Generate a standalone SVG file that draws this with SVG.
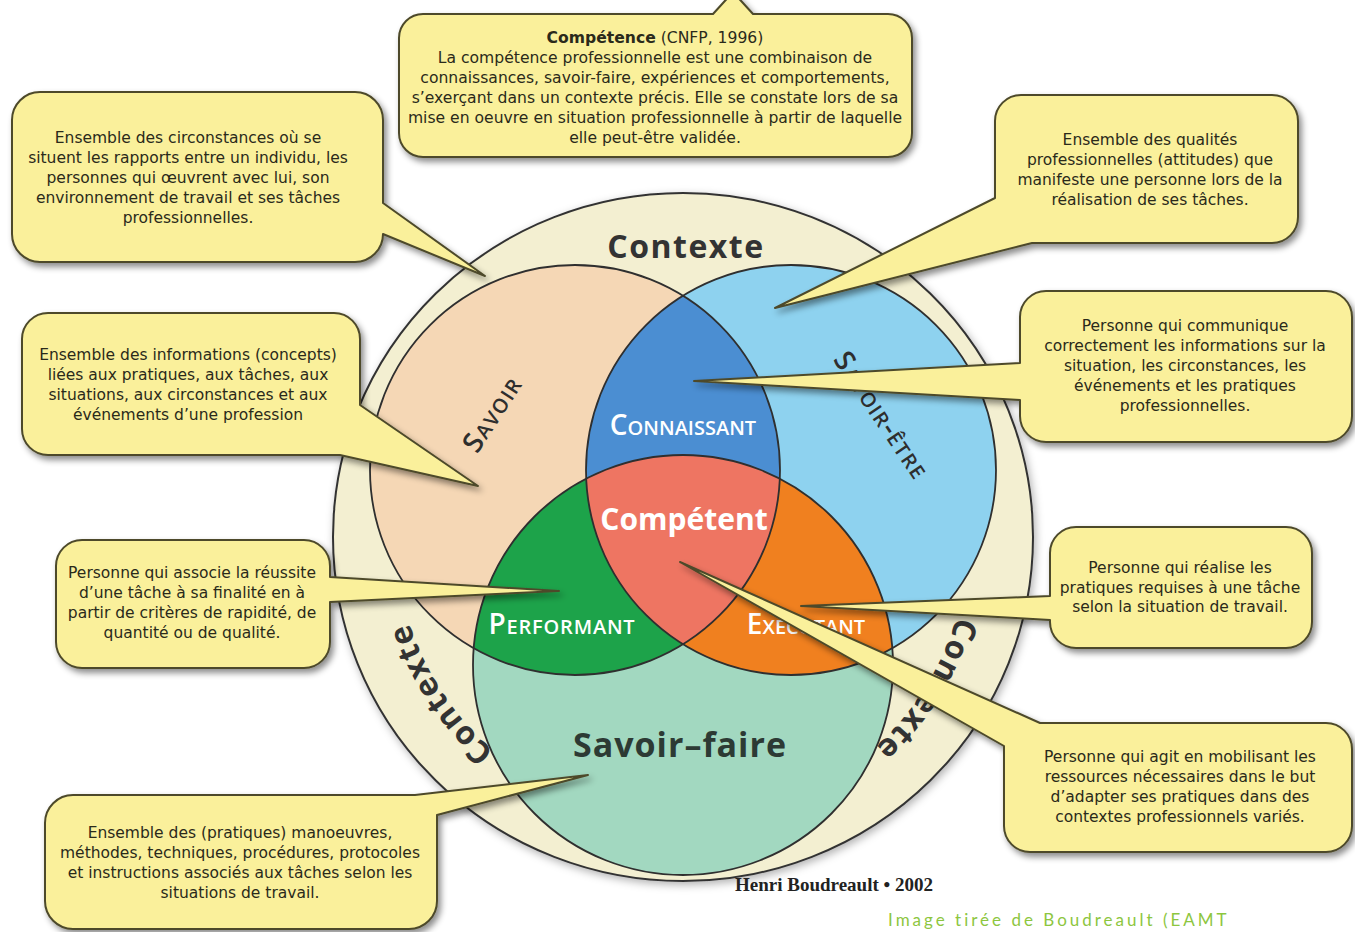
<svg xmlns="http://www.w3.org/2000/svg" width="1355" height="932" viewBox="0 0 1355 932">
<style>
.bx{fill:#FAF09B;stroke:#4d4a2a;stroke-width:2;stroke-linejoin:round;filter:url(#sh)}
.bt{font-family:"DejaVu Sans","Liberation Sans",sans-serif;font-size:15.5px;fill:#2a2a1a;text-anchor:middle}
.tt{font-size:15.6px}
.ln{fill:none;stroke:#2f2f2f;stroke-width:1.8}
.big{font-family:"Open Sans","Liberation Sans",sans-serif;font-weight:700;text-anchor:middle}
.sc{font-family:"Open Sans","Liberation Sans",sans-serif;font-weight:600;font-variant:small-caps;text-anchor:middle;font-size:28px}
</style>
<defs>
<filter id="sh" x="-10%" y="-10%" width="125%" height="130%"><feDropShadow dx="3" dy="4" stdDeviation="3" flood-color="#000" flood-opacity="0.45"/></filter>
<filter id="sh2" x="-10%" y="-10%" width="125%" height="125%"><feDropShadow dx="2" dy="3" stdDeviation="4" flood-color="#000" flood-opacity="0.3"/></filter>
<clipPath id="cS"><circle cx="575" cy="470" r="205"/></clipPath>
<clipPath id="cE"><circle cx="791" cy="470" r="205"/></clipPath>
<path id="arcL" d="M553.6,790.9 A288,288 0 0 1 395.4,551.9"/>
<path id="arcR" d="M967.8,546.9 A285,285 0 0 1 816.8,788.6"/>
</defs>
<rect width="1355" height="932" fill="#fff"/>

<g id="contexte">
<ellipse cx="683" cy="537" rx="350" ry="344" fill="#F3EFD1" stroke="#333" stroke-width="2" filter="url(#sh2)"/>
<text class="big" x="686" y="258" font-size="32" letter-spacing="1.5" fill="#333">Contexte</text>
<text class="big" font-size="32" letter-spacing="1.5" fill="#333"><textPath href="#arcL" startOffset="50%">Contexte</textPath></text>
<text class="big" font-size="32" letter-spacing="1.5" fill="#333"><textPath href="#arcR" startOffset="50%">Contexte</textPath></text>
</g>

<g id="savoir">
<circle cx="575" cy="470" r="205" fill="#F5D7B5"/>
</g>
<g id="savoir-etre">
<circle cx="791" cy="470" r="205" fill="#8ED2EF"/>
</g>
<g id="savoir-faire">
<circle cx="683" cy="665" r="210" fill="#A2D8C0"/>
</g>
<g id="connaissant">
<circle cx="791" cy="470" r="205" fill="#4B8ED2" clip-path="url(#cS)"/>
</g>
<g id="performant">
<circle cx="683" cy="665" r="210" fill="#1DA34A" clip-path="url(#cS)"/>
</g>
<g id="executant">
<circle cx="683" cy="665" r="210" fill="#F0801F" clip-path="url(#cE)"/>
</g>
<g id="competent">
<g clip-path="url(#cE)"><circle cx="683" cy="665" r="210" fill="#EE7562" clip-path="url(#cS)"/></g>
</g>
<g id="outlines">
<circle class="ln" cx="575" cy="470" r="205"/>
<circle class="ln" cx="791" cy="470" r="205"/>
<circle class="ln" cx="683" cy="665" r="210"/>
</g>
<g id="labels">
<text class="sc" fill="#2e2e2e" font-size="33" letter-spacing="1.5" transform="translate(491,413) rotate(-57)" y="11">Savoir</text>
<text class="sc" fill="#2e2e2e" font-size="31" letter-spacing="1.5" transform="translate(882,415) rotate(56)" y="10">Savoir-être</text>
<text class="sc" fill="#fff" x="683" y="435">Connaissant</text>
<text class="big" fill="#fff" x="684" y="530" font-size="30">Compétent</text>
<text class="sc" fill="#fff" x="562" y="634" letter-spacing="0.8">Performant</text>
<text class="sc" fill="#fff" x="806" y="634">Exécutant</text>
<text class="big" fill="#2d3a34" x="680" y="757" font-size="34" letter-spacing="1">Savoir–faire</text>
</g>

<g id="bulle-competence">
<path class="bx" d="M423,14 L713,14 L733,-8 L753,14 L888,14 A24,24 0 0 1 912,38 L912,133 A24,24 0 0 1 888,157 L423,157 A24,24 0 0 1 399,133 L399,38 A24,24 0 0 1 423,14 Z"/>
<text class="bt tt" x="655"><tspan x="655" y="43"><tspan font-weight="bold">Compétence</tspan> (CNFP, 1996)</tspan><tspan x="655" y="63">La compétence professionnelle est une combinaison de</tspan><tspan x="655" y="83">connaissances, savoir-faire, expériences et comportements,</tspan><tspan x="655" y="103">s’exerçant dans un contexte précis. Elle se constate lors de sa</tspan><tspan x="655" y="123">mise en oeuvre en situation professionnelle à partir de laquelle</tspan><tspan x="655" y="143">elle peut-être validée.</tspan></text>
</g>
<g id="bulle-contexte">
<path class="bx" d="M40,92 L355,92 A28,28 0 0 1 383,120 L383,203 L485,276 L383,234 A28,28 0 0 1 355,262 L40,262 A28,28 0 0 1 12,234 L12,120 A28,28 0 0 1 40,92 Z"/>
<text class="bt"><tspan x="188" y="143">Ensemble des circonstances où se</tspan><tspan x="188" y="163">situent les rapports entre un individu, les</tspan><tspan x="188" y="183">personnes qui œuvrent avec lui, son</tspan><tspan x="188" y="203">environnement de travail et ses tâches</tspan><tspan x="188" y="223">professionnelles.</tspan></text>
</g>
<g id="bulle-savoir-etre">
<path class="bx" d="M1021,95 L1272,95 A26,26 0 0 1 1298,121 L1298,217 A26,26 0 0 1 1272,243 L1032,243 L775,308 L995,198 L995,121 A26,26 0 0 1 1021,95 Z"/>
<text class="bt"><tspan x="1150" y="145">Ensemble des qualités</tspan><tspan x="1150" y="165">professionnelles (attitudes) que</tspan><tspan x="1150" y="185">manifeste une personne lors de la</tspan><tspan x="1150" y="205">réalisation de ses tâches.</tspan></text>
</g>
<g id="bulle-savoir">
<path class="bx" d="M48,313 L334,313 A26,26 0 0 1 360,339 L360,405 L478,486 L340,455 L48,455 A26,26 0 0 1 22,429 L22,339 A26,26 0 0 1 48,313 Z"/>
<text class="bt"><tspan x="188" y="360">Ensemble des informations (concepts)</tspan><tspan x="188" y="380">liées aux pratiques, aux tâches, aux</tspan><tspan x="188" y="400">situations, aux circonstances et aux</tspan><tspan x="188" y="420">événements d’une profession</tspan></text>
</g>
<g id="bulle-connaissant">
<path class="bx" d="M1046,291 L1326,291 A26,26 0 0 1 1352,317 L1352,416 A26,26 0 0 1 1326,442 L1046,442 A26,26 0 0 1 1020,416 L1020,400 L694,381 L1020,363 L1020,317 A26,26 0 0 1 1046,291 Z"/>
<text class="bt"><tspan x="1185" y="331">Personne qui communique</tspan><tspan x="1185" y="351">correctement les informations sur la</tspan><tspan x="1185" y="371">situation, les circonstances, les</tspan><tspan x="1185" y="391">événements et les pratiques</tspan><tspan x="1185" y="411">professionnelles.</tspan></text>
</g>
<g id="bulle-performant">
<path class="bx" d="M82,540 L304,540 A26,26 0 0 1 330,566 L330,577 L559,591 L330,602 L330,642 A26,26 0 0 1 304,668 L82,668 A26,26 0 0 1 56,642 L56,566 A26,26 0 0 1 82,540 Z"/>
<text class="bt"><tspan x="192" y="578">Personne qui associe la réussite</tspan><tspan x="192" y="598">d’une tâche à sa finalité en à</tspan><tspan x="192" y="618">partir de critères de rapidité, de</tspan><tspan x="192" y="638">quantité ou de qualité.</tspan></text>
</g>
<g id="bulle-executant">
<path class="bx" d="M1076,527 L1286,527 A26,26 0 0 1 1312,553 L1312,622 A26,26 0 0 1 1286,648 L1076,648 A26,26 0 0 1 1050,622 L1050,620 L801,606 L1050,596 L1050,553 A26,26 0 0 1 1076,527 Z"/>
<text class="bt"><tspan x="1180" y="573">Personne qui réalise les</tspan><tspan x="1180" y="593">pratiques requises à une tâche</tspan><tspan x="1180" y="612">selon la situation de travail.</tspan></text>
</g>
<g id="bulle-competent">
<path class="bx" d="M1040,723 L1326,723 A26,26 0 0 1 1352,749 L1352,826 A26,26 0 0 1 1326,852 L1030,852 A26,26 0 0 1 1004,826 L1004,746 L680,562 Z"/>
<text class="bt"><tspan x="1180" y="762">Personne qui agit en mobilisant les</tspan><tspan x="1180" y="782">ressources nécessaires dans le but</tspan><tspan x="1180" y="802">d’adapter ses pratiques dans des</tspan><tspan x="1180" y="822">contextes professionnels variés.</tspan></text>
</g>
<g id="bulle-savoir-faire">
<path class="bx" d="M73,795 L415,795 L588,775 L437,815 L437,901 A28,28 0 0 1 409,929 L73,929 A28,28 0 0 1 45,901 L45,823 A28,28 0 0 1 73,795 Z"/>
<text class="bt"><tspan x="240" y="838">Ensemble des (pratiques) manoeuvres,</tspan><tspan x="240" y="858">méthodes, techniques, procédures, protocoles</tspan><tspan x="240" y="878">et instructions associés aux tâches selon les</tspan><tspan x="240" y="898">situations de travail.</tspan></text>
</g>

<g id="credits">
<text x="735" y="891" font-family="'Liberation Serif',serif" font-weight="700" font-size="19" fill="#222">Henri Boudreault • 2002</text>
<text x="888" y="926" font-family="Lato,'Liberation Sans',sans-serif" font-size="17" letter-spacing="3" fill="#8DC63F">Image tirée de Boudreault (EAMT</text>
</g>
</svg>
